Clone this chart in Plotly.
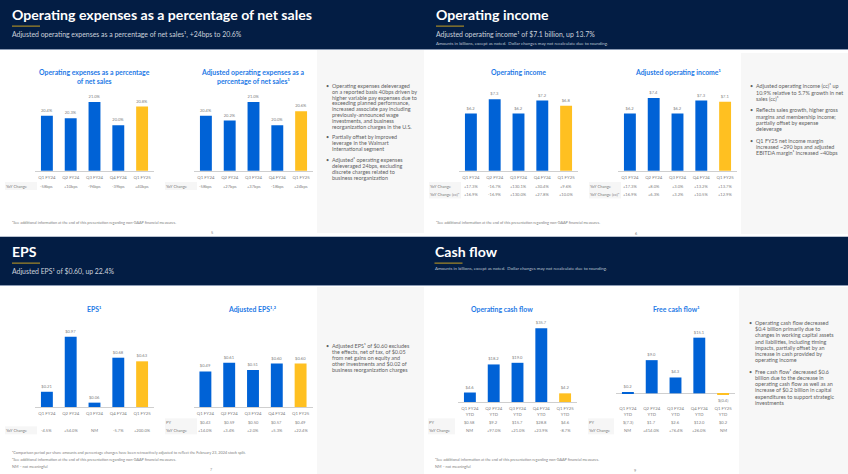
import plotly.graph_objects as go

W, H = 848, 474
FONT = "Lato"
NAVY = "#031d44"
BLUE = "#0062d6"
GOLD = "#ffc021"
TITLE = "#1f7ae6"
GRAY = "#808080"
BODY = "#5f5f5f"

# ---- data ----
quarters = ["Q1 FY24", "Q2 FY24", "Q3 FY24", "Q4 FY24", "Q1 FY25"]
ytd_quarters = ["Q1 FY24<br>YTD", "Q2 FY24<br>YTD", "Q3 FY24<br>YTD", "Q4 FY24<br>YTD", "Q1 FY25<br>YTD"]

opex_pct = [20.4, 20.3, 21.0, 20.0, 20.8]
opex_pct_labels = ["20.4%", "20.3%", "21.0%", "20.0%", "20.8%"]
opex_pct_yoy = ["-58bps", "+10bps", "-96bps", "-39bps", "+40bps"]

adj_opex_pct = [20.4, 20.2, 21.0, 20.0, 20.6]
adj_opex_pct_labels = ["20.4%", "20.2%", "21.0%", "20.0%", "20.6%"]
adj_opex_pct_yoy = ["-58bps", "+27bps", "+37bps", "-18bps", "+24bps"]

op_income = [6.2, 7.3, 6.2, 7.2, 6.8]
op_income_labels = ["$6.2", "$7.3", "$6.2", "$7.2", "$6.8"]
op_income_yoy = ["+17.3%", "-16.7%", "+130.1%", "+30.4%", "+9.6%"]
op_income_yoy_cc = ["+16.9%", "-16.9%", "+130.0%", "+27.8%", "+10.0%"]

adj_op_income = [6.2, 7.4, 6.2, 7.2, 7.1]
adj_op_income_labels = ["$6.2", "$7.4", "$6.2", "$7.3", "$7.1"]
adj_op_income_yoy = ["+17.3%", "+8.0%", "+3.0%", "+13.2%", "+13.7%"]
adj_op_income_yoy_cc = ["+16.9%", "+6.3%", "+3.2%", "+10.5%", "+12.9%"]

eps = [0.21, 0.97, 0.06, 0.68, 0.63]
eps_labels = ["$0.21", "$0.97", "$0.06", "$0.68", "$0.63"]
eps_yoy = ["-4.5%", "+54.0%", "NM", "-5.7%", "+200.0%"]

adj_eps = [0.49, 0.61, 0.51, 0.60, 0.60]
adj_eps_labels = ["$0.49", "$0.61", "$0.51", "$0.60", "$0.60"]
adj_eps_py = ["$0.43", "$0.59", "$0.50", "$0.57", "$0.49"]
adj_eps_yoy = ["+14.0%", "+3.4%", "+2.0%", "+5.3%", "+22.4%"]

op_cash = [4.6, 18.2, 19.0, 35.7, 4.2]
op_cash_labels = ["$4.6", "$18.2", "$19.0", "$35.7", "$4.2"]
op_cash_py = ["$0.58", "$9.2", "$15.7", "$28.8", "$4.6"]
op_cash_yoy = ["NM", "+97.0%", "+21.0%", "+23.9%", "-8.7%"]

free_cash = [0.2, 9.0, 4.3, 15.1, -0.4]
free_cash_labels = ["$0.2", "$9.0", "$4.3", "$15.1", "$(0.4)"]
free_cash_py = ["$(7.3)", "$1.7", "$2.6", "$12.0", "$0.2"]
free_cash_yoy = ["NM", "+414.0%", "+76.4%", "+26.0%", "NM"]

# ---- helpers: pixel positions to paper fractions ----
def fx(px): return px / W
def fy(px): return 1 - px / H

shapes, notes = [], []

def rect(x0, y0, x1, y1, color):
    shapes.append(dict(type="rect", xref="paper", yref="paper", x0=fx(x0), x1=fx(x1),
                       y0=fy(y0), y1=fy(y1), fillcolor=color, line_width=0, layer="below"))

def text(x, y, s, size, color=BODY, anchor="left", vanchor="middle", weight=None, xref="paper"):
    notes.append(dict(x=fx(x) if xref == "paper" else x, y=fy(y), xref=xref, yref="paper", text=s, showarrow=False,
                      xanchor=anchor, yanchor=vanchor, align=anchor if anchor != "middle" else "center",
                      borderpad=0, borderwidth=0,
                      font=dict(family=FONT, size=size, color=color, weight=weight)))

# ---- slide furniture ----
slides = [
    dict(x=0, y=0, hdr=49, side=(317, 50, 424, 233), foot=236),
    dict(x=424, y=0, hdr=49, side=(741, 53, 848, 234), foot=236),
    dict(x=0, y=237, hdr=285, side=(317, 287, 424, 474), foot=None),
    dict(x=424, y=237, hdr=285, side=(739, 287, 848, 474), foot=None),
]
heads = [
    ("Operating expenses as a percentage of net sales", "Adjusted operating expenses as a percentage of net sales¹, +24bps to 20.6%", None),
    ("Operating income", "Adjusted operating income¹ of $7.1 billion, up 13.7%", "Amounts in billions, except as noted.  Dollar changes may not recalculate due to rounding."),
    ("EPS", "Adjusted EPS¹ of $0.60, up 22.4%", None),
    ("Cash flow", None, "Amounts in billions, except as noted.  Dollar changes may not recalculate due to rounding."),
]
for s, (t, sub, small) in zip(slides, heads):
    x0 = s["x"]
    rect(x0, s["y"], x0 + 424, s["hdr"], NAVY)
    rect(x0, s["hdr"], x0 + 424, s["hdr"] + 1, "#8d9cb5")
    rect(*s["side"], "#f7f7f7")
    if s["foot"]:
        rect(x0, s["foot"], x0 + 424, s["foot"] + 1, "#b9c2d0")
    tx = x0 + (12 if x0 == 0 or s["y"] == 0 else 10.5)
    text(tx, s["y"] + 15, t, 14.1, "#ffffff", weight=700)
    rect(tx, s["y"] + 25.6, tx + 28, s["y"] + 26.6, "#c8a021")
    if sub:
        text(tx, s["y"] + 34, sub, 6.9, "#cbd1db")
    if small:
        text(tx, s["y"] + (43 if sub else 31.5), small, 4.4, "#bcc4d1")

# ---- charts ----
charts = [
    dict(vals=opex_pct, labs=opex_pct_labels, cats=quarters, x=(35, 154), base=170.7, top=85, ymin=18.05, scale=23.33,
         title=["Operating expenses as a percentage", "of net sales"], tx=94.3, ty=[72.5, 81],
         rows=[("YoY Change", opex_pct_yoy, 186)], box=(5, 37)),
    dict(vals=adj_opex_pct, labs=adj_opex_pct_labels, cats=quarters, x=(194, 313), base=170.7, top=85, ymin=18.05, scale=23.33,
         title=["Adjusted operating expenses as a", "percentage of net sales¹"], tx=253, ty=[72.5, 81],
         rows=[("YoY Change", adj_opex_pct_yoy, 186)], box=(165, 197)),
    dict(vals=op_income, labs=op_income_labels, cats=quarters, x=(459, 578), base=170.7, top=85, ymin=1.8, scale=13,
         title=["Operating income"], tx=518.3, ty=[72.5],
         rows=[("YoY Change", op_income_yoy, 186), ("YoY Change (cc)¹", op_income_yoy_cc, 194.5)], box=(429, 461)),
    dict(vals=adj_op_income, labs=adj_op_income_labels, cats=quarters, x=(618, 737), base=170.7, top=85, ymin=1.8, scale=13,
         title=["Adjusted operating income¹"], tx=677.5, ty=[72.5],
         rows=[("YoY Change", adj_op_income_yoy, 186), ("YoY Change (cc)¹", adj_op_income_yoy_cc, 194.5)], box=(589, 621)),
    dict(vals=eps, labs=eps_labels, cats=quarters, x=(35, 154), base=407, top=330, ymin=0, scale=72.5,
         title=["EPS¹"], tx=94.3, ty=[308.5],
         rows=[("YoY Change", eps_yoy, 430.3)], box=(5, 37)),
    dict(vals=adj_eps, labs=adj_eps_labels, cats=quarters, x=(193.5, 312.5), base=407, top=330, ymin=0, scale=72.5,
         title=["Adjusted EPS¹˒²"], tx=252.7, ty=[308.5],
         rows=[("PY", adj_eps_py, 422.3), ("YoY Change", adj_eps_yoy, 430.3)], box=(165, 197)),
    dict(vals=op_cash, labs=op_cash_labels, cats=ytd_quarters, x=(458, 577), base=402, top=315, ymin=0, scale=2.063,
         title=["Operating cash flow"], tx=502.3, ty=[309],
         rows=[("PY", op_cash_py, 422.3), ("YoY Change", op_cash_yoy, 430.3)], box=(428, 455)),
    dict(vals=free_cash, labs=free_cash_labels, cats=ytd_quarters, x=(616, 735), base=402, top=315, ymin=-2.35, scale=3.687,
         title=["Free cash flow¹"], tx=675.7, ty=[308.5], zero=True,
         rows=[("PY", free_cash_py, 422.3), ("YoY Change", free_cash_yoy, 430.3)], box=(588, 614)),
]

fig = go.Figure()
layout_axes = {}
for i, c in enumerate(charts, 1):
    xn, yn = f"x{i}", f"y{i}"
    colors = [BLUE] * 4 + [GOLD]
    fig.add_trace(go.Bar(x=c["cats"], y=c["vals"], xaxis=xn, yaxis=yn, width=0.5, marker=dict(color=colors, line_width=0),
                         text=c["labs"], textposition="outside", cliponaxis=False, showlegend=False, hoverinfo="skip",
                         textfont=dict(family=FONT, size=4.1, color=GRAY)))
    ymax = c["ymin"] + (c["base"] - c["top"]) / c["scale"]
    zero = c.get("zero", False)
    layout_axes[f"xaxis{i}"] = dict(domain=[fx(c["x"][0]), fx(c["x"][1])], anchor=yn, type="category", range=[-0.5, 4.5],
                                    showgrid=False, zeroline=False, showline=not zero, linecolor="#cfcfcf", linewidth=0.7,
                                    ticks="outside", ticklen=2, tickcolor="rgba(0,0,0,0)", automargin=False,
                                    tickfont=dict(family=FONT, size=4.3, color=GRAY), tickangle=0)
    layout_axes[f"yaxis{i}"] = dict(domain=[fy(c["base"]), fy(c["top"])], anchor=xn, range=[c["ymin"], ymax],
                                    visible=True, showticklabels=False, ticks="", showgrid=False, showline=False,
                                    zeroline=zero, zerolinecolor="#cfcfcf", zerolinewidth=0.7, automargin=False)
    for line, y in zip(c["title"], c["ty"]):
        text(c["tx"], y, line, 6.9, TITLE, anchor="center", weight=700)
    rows = c["rows"]
    ys = [r[2] for r in rows]
    rect(c["box"][0], ys[0] - 4, c["box"][1], ys[-1] + 4, "#f6f6f6")
    for name, cells, y in rows:
        text(c["box"][0] + 1, y, name, 4.1, GRAY)
        for cat, cell in zip(c["cats"], cells):
            text(cat, y, cell, 4.1, GRAY, anchor="center", xref=xn)

# ---- bullets: each paragraph is drawn line by line ----
bullets = [
    (332, 326, 86, 5.8, ["Operating expenses deleveraged", "on a reported basis 40bps driven by", "higher variable pay expenses due to", "exceeding planned performance,", "increased associate pay including", "previously-announced wage", "investments, and business", "reorganization charges in the U.S."]),
    (332, 326, 137.3, 5.8, ["Partially offset by improved", "leverage in the Walmart", "International segment"]),
    (332, 326, 160.3, 5.8, ["Adjusted¹ operating expenses", "deleveraged 24bps, excluding", "discrete charges related to", "business reorganization"]),
    (756, 750, 86.3, 6.2, ["Adjusted operating income (cc)¹ up", "10.9% relative to 5.7% growth in net", "sales (cc)¹"]),
    (756, 750, 110.3, 6.2, ["Reflects sales growth, higher gross", "margins and membership income;", "partially offset by expense", "deleverage"]),
    (756, 750, 140.7, 6.2, ["Q1 FY25 net income margin", "increased ~290 bps and adjusted", "EBITDA margin¹ increased ~40bps"]),
    (332, 326, 345.7, 6.17, ["Adjusted EPS¹ of $0.60 excludes", "the effects, net of tax, of $0.05", "from net gains on equity and", "other investments and $0.02 of", "business reorganization charges"]),
    (755, 749, 323, 6.2, ["Operating cash flow decreased", "$0.4 billion primarily due to", "changes in working capital assets", "and liabilities, including timing", "impacts, partially offset by an", "increase in cash provided by", "operating income"]),
    (755, 749, 371.7, 6.2, ["Free cash flow¹ decreased $0.6", "billion due to the decrease in", "operating cash flow as well as an", "increase of $0.2 billion in capital", "expenditures to support strategic", "investments"]),
]
for tx, bx, y, pitch, lines in bullets:
    text(bx, y, "•", 5.4, BODY)
    for k, line in enumerate(lines):
        text(tx, y + k * pitch, line, 5.45, BODY)

# ---- footnotes ----
see = "See additional information at the end of this presentation regarding non-GAAP financial measures."
text(12.3, 222.6, "¹" + see, 3.8, GRAY)
text(436.3, 222.6, "¹" + see, 3.8, GRAY)
text(12, 452.7, "¹Comparison period per share amounts and percentage changes have been retroactively adjusted to reflect the February 23, 2024 stock split.", 3.8, GRAY)
text(12, 459.4, "²" + see, 3.8, GRAY)
text(12, 466.3, "NM – not meaningful", 3.8, GRAY)
text(435, 459.7, "¹" + see, 3.8, GRAY)
text(435, 466.3, "NM – not meaningful", 3.8, GRAY)
for x, y, n in [(211.7, 232.7, "5"), (636, 233, "6"), (211.7, 469.5, "7"), (634.5, 470, "9")]:
    text(x, y, n, 3.8, GRAY, anchor="center")

fig.update_layout(width=W, height=H, autosize=False, margin=dict(l=0, r=0, t=0, b=0),
                  paper_bgcolor="#ffffff", plot_bgcolor="rgba(0,0,0,0)", bargap=0.5, showlegend=False,
                  shapes=shapes, annotations=notes, **layout_axes)
fig.write_html("out.html", config=dict(displayModeBar=False),
               post_script="document.body.style.margin='0';document.documentElement.style.overflow='hidden';")
